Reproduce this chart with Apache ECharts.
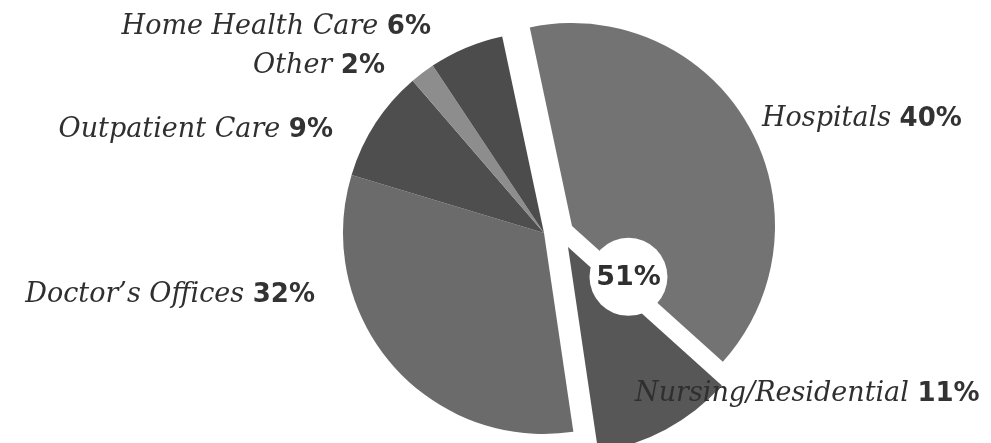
<!DOCTYPE html>
<html>
<head>
<meta charset="utf-8">
<script src="https://cdn.jsdelivr.net/npm/echarts@6/dist/echarts.min.js"></script>
<style>
  html, body { margin: 0; padding: 0; background: #ffffff; }
  #chart { width: 991px; height: 443px; }
</style>
</head>
<body>
<div id="chart"></div>
<script>
// ---- data ----
const categories = ['Hospitals', 'Nursing/Residential', 'Doctor\u2019s Offices', 'Outpatient Care', 'Other', 'Home Health Care'];
const shares = [40, 11, 32, 9, 2, 6];
const groupOf = ['hosp', 'nurs', 'rest', 'rest', 'rest', 'rest'];
const centerLabel = '51%';

// ---- styling / layout ----
const sliceColors = ['#737373', '#575757', '#6b6b6b', '#4e4e4e', '#8d8d8d', '#4c4c4c'];
const startAngle = 102;
const groupLayout = {
  rest: { center: [544, 233], radius: 201 },
  hosp: { center: [572, 226], radius: 203 },
  nurs: { center: [568, 247], radius: 207 }
};
const drawOrder = ['rest', 'nurs', 'hosp'];
// label anchors: [x, y, align]
const labelAnchors = [
  [762, 119, 'left'],
  [635, 394, 'left'],
  [315, 295, 'right'],
  [333, 130, 'right'],
  [385, 66, 'right'],
  [431, 27, 'right']
];
const nameFont = { fontFamily: 'DejaVu Serif', fontStyle: 'italic', fontSize: 27, color: '#2f2f2f' };
const pctFont = { fontFamily: 'DejaVu Sans', fontWeight: 'bold', fontSize: 26, color: '#333333' };

const chart = echarts.init(document.getElementById('chart'), null, { renderer: 'canvas' });

const series = drawOrder.map(function (g, si) {
  const lay = groupLayout[g];
  return {
    type: 'pie',
    z: 2 + si,
    center: lay.center,
    radius: [0, lay.radius],
    startAngle: startAngle,
    clockwise: true,
    silent: true,
    animation: false,
    avoidLabelOverlap: false,
    labelLine: { show: false },
    emphasis: { disabled: true },
    data: categories.map(function (name, i) {
      const visible = groupOf[i] === g;
      return {
        name: name,
        value: shares[i],
        itemStyle: { color: visible ? sliceColors[i] : 'rgba(0,0,0,0)', borderWidth: 0 },
        label: {
          show: visible,
          position: 'outside',
          formatter: '{n|' + name + ' }{p|' + shares[i] + '%}',
          rich: {
            n: Object.assign({}, nameFont, { lineHeight: 32 }),
            p: Object.assign({}, pctFont, { lineHeight: 32 })
          }
        }
      };
    }),
    labelLayout: function (params) {
      const a = labelAnchors[params.dataIndex];
      return { x: a[0], y: a[1], align: a[2], verticalAlign: 'middle', hideOverlap: false };
    }
  };
});

// the 51% badge sits on the Hospitals / Nursing boundary
const hospEndAngle = (startAngle - shares[0] / 100 * 360) * Math.PI / 180;
const hc = groupLayout.hosp.center;
const badgeDist = 76;
const badgeX = hc[0] + badgeDist * Math.cos(hospEndAngle);
const badgeY = hc[1] - badgeDist * Math.sin(hospEndAngle);

chart.setOption({
  backgroundColor: '#ffffff',
  animation: false,
  series: series,
  graphic: [
    {
      type: 'circle',
      zlevel: 1,
      z: 100,
      x: badgeX,
      y: badgeY,
      shape: { cx: 0, cy: 0, r: 39 },
      style: { fill: '#ffffff' }
    },
    {
      type: 'text',
      zlevel: 1,
      z: 101,
      x: badgeX,
      y: badgeY + 1,
      style: {
        text: centerLabel, align: 'center', verticalAlign: 'middle',
        fontFamily: 'DejaVu Sans', fontWeight: 'bold', fontSize: 27, fill: '#2f2f2f'
      }
    }
  ]
});
</script>
</body>
</html>
